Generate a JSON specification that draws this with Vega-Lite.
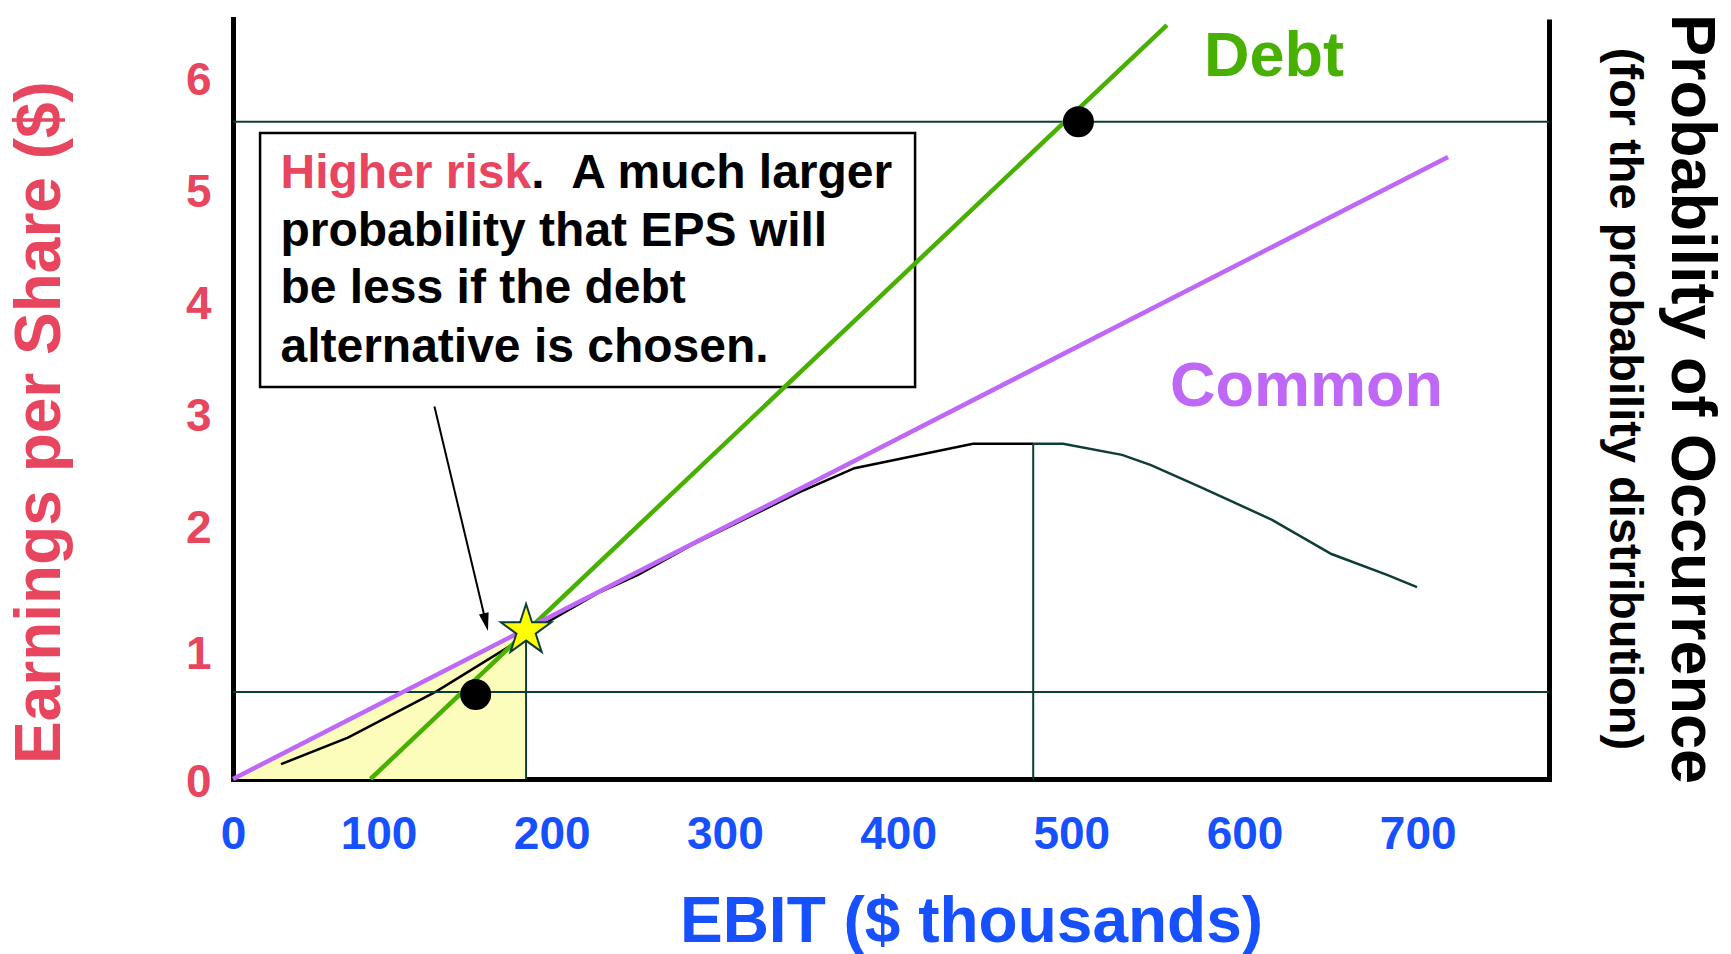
{
  "$schema": "https://vega.github.io/schema/vega-lite/v6.json",
  "width": 1316,
  "height": 760,
  "autosize": {"type": "none"},
  "padding": {"left": 233, "top": 19, "right": 182, "bottom": 175},
  "background": "white",
  "config": {
    "font": "Liberation Sans",
    "view": {"stroke": null},
    "axis": {"grid": false}
  },
  "title": {
    "text": "Probability of Occurrence",
    "subtitle": "(for the probability distribution)",
    "orient": "right",
    "anchor": "middle",
    "fontSize": 63,
    "fontWeight": "bold",
    "color": "black",
    "subtitleFontSize": 47,
    "subtitleFontWeight": "bold",
    "subtitleColor": "black",
    "subtitlePadding": 12,
    "offset": 51
  },
  "resolve": {"scale": {"y": "independent"}},
  "layer": [
    {
      "description": "Shaded region under the Common line up to the indifference point",
      "data": {"values": [{"ebit": 0, "eps": 0}, {"ebit": 185.2, "eps": 1.163}]},
      "mark": {"type": "area", "color": "#fcfcbb"},
      "encoding": {
        "x": {
          "field": "ebit", "type": "quantitative",
          "scale": {"domain": [0, 100, 775.8], "range": [0, 145.5, 1316], "nice": false, "zero": false},
          "axis": {
            "values": [0, 100, 200, 300, 400, 500, 600, 700],
            "title": "EBIT ($ thousands)",
            "domainColor": "black", "domainWidth": 5, "domainCap": "square",
            "ticks": false, "tickSize": 0,
            "labelFontSize": 46, "labelFontWeight": "bold", "labelColor": "#1650ff",
            "labelPadding": 33, "labelFlush": false, "labelOverlap": false,
            "titleFontSize": 64, "titleFontWeight": "bold", "titleColor": "#1650ff",
            "titleX": 738, "titleY": 162, "titleBaseline": "alphabetic", "titleAlign": "center"
          }
        },
        "y": {
          "field": "eps", "type": "quantitative",
          "scale": {"domain": [0, 1, 2, 6.518], "range": [760, 632, 506, 0], "nice": false, "zero": false},
          "axis": {
            "values": [0, 1, 2, 3, 4, 5, 6],
            "title": "Earnings per Share ($)",
            "domainColor": "black", "domainWidth": 5, "domainCap": "square",
            "ticks": false, "tickSize": 0,
            "labelFontSize": 46, "labelFontWeight": "bold", "labelColor": "#e8455f",
            "labelPadding": 22, "labelOffset": 3, "labelFlush": false, "labelOverlap": false,
            "titleFontSize": 64, "titleFontWeight": "bold", "titleColor": "#e8455f",
            "titleX": -174, "titleY": 403, "titleAngle": -90,
            "titleBaseline": "alphabetic", "titleAlign": "center"
          }
        }
      }
    },
    {
      "description": "Probability distribution of EBIT, read against the right-hand axis",
      "data": {
        "values": [
          {"ebit": 33.0, "prob": 0.0039, "segment": "lower"},
          {"ebit": 79.0, "prob": 0.0109, "segment": "lower"},
          {"ebit": 133.2, "prob": 0.0230, "segment": "lower"},
          {"ebit": 177.7, "prob": 0.0355, "segment": "lower"},
          {"ebit": 197.3, "prob": 0.0412, "segment": "lower"},
          {"ebit": 227.9, "prob": 0.0492, "segment": "lower"},
          {"ebit": 249.8, "prob": 0.0537, "segment": "lower"},
          {"ebit": 281.0, "prob": 0.0616, "segment": "lower"},
          {"ebit": 320.8, "prob": 0.0705, "segment": "lower"},
          {"ebit": 342.8, "prob": 0.0754, "segment": "lower"},
          {"ebit": 374.8, "prob": 0.0818, "segment": "lower"},
          {"ebit": 443.2, "prob": 0.0882, "segment": "lower"},
          {"ebit": 478.0, "prob": 0.0882, "segment": "lower"},
          {"ebit": 478.0, "prob": 0.0882, "segment": "upper"},
          {"ebit": 495.2, "prob": 0.0882, "segment": "upper"},
          {"ebit": 529.3, "prob": 0.0853, "segment": "upper"},
          {"ebit": 546.0, "prob": 0.0826, "segment": "upper"},
          {"ebit": 574.3, "prob": 0.0769, "segment": "upper"},
          {"ebit": 615.9, "prob": 0.0682, "segment": "upper"},
          {"ebit": 650.2, "prob": 0.0592, "segment": "upper"},
          {"ebit": 682.3, "prob": 0.0537, "segment": "upper"},
          {"ebit": 699.6, "prob": 0.0505, "segment": "upper"}
        ]
      },
      "encoding": {
        "x": {
          "field": "ebit", "type": "quantitative",
          "scale": {"domain": [0, 100, 775.8], "range": [0, 145.5, 1316], "nice": false, "zero": false}
        },
        "y": {
          "field": "prob", "type": "quantitative",
          "scale": {"domain": [0, 0.2], "nice": false, "zero": false},
          "axis": {
            "orient": "right", "title": null,
            "domainColor": "black", "domainWidth": 5,
            "ticks": false, "labels": false, "grid": false
          }
        }
      },
      "layer": [
        {
          "transform": [{"filter": "datum.segment === 'lower'"}],
          "mark": {"type": "line", "color": "black", "strokeWidth": 2.5}
        },
        {
          "transform": [{"filter": "datum.segment === 'upper'"}],
          "mark": {"type": "line", "color": "#0e3d38", "strokeWidth": 2.5}
        },
        {
          "description": "Expected EBIT",
          "transform": [{"filter": "datum.segment === 'upper' && datum.ebit === 478"}],
          "mark": {"type": "rule", "color": "#0e3d38", "strokeWidth": 2},
          "encoding": {"y2": {"datum": 0}}
        }
      ]
    },
    {
      "description": "EPS lines, callout and markers",
      "encoding": {
        "x": {
          "field": "ebit", "type": "quantitative",
          "scale": {"domain": [0, 100, 775.8], "range": [0, 145.5, 1316], "nice": false, "zero": false}
        },
        "y": {
          "field": "eps", "type": "quantitative",
          "scale": {"domain": [0, 1, 2, 6.518], "range": [760, 632, 506, 0], "nice": false, "zero": false},
          "axis": null
        }
      },
      "layer": [
        {
          "data": {"values": [{"ebit": 18.6, "ebit_end": 409.8, "eps": 5.50, "eps_end": 3.232}]},
          "mark": {"type": "rect", "fill": "white", "stroke": "black", "strokeWidth": 2.5},
          "encoding": {
            "x2": {"field": "ebit_end"},
            "y2": {"field": "eps_end"}
          }
        },
        {
          "data": {"values": [{"eps": 5.6}, {"eps": 0.68}]},
          "mark": {"type": "rule", "color": "#0e3d38", "strokeWidth": 2},
          "encoding": {"x": null}
        },
        {
          "data": {"values": [{"ebit": 185.2, "eps": 1.163}]},
          "mark": {"type": "rule", "color": "#0e3d38", "strokeWidth": 2},
          "encoding": {"y2": {"datum": 0}}
        },
        {
          "data": {
            "values": [
              {"series": "Debt", "ebit": 94.5, "eps": 0},
              {"series": "Debt", "ebit": 555.2, "eps": 6.464},
              {"series": "Common", "ebit": 0, "eps": 0},
              {"series": "Common", "ebit": 717.5, "eps": 5.286}
            ]
          },
          "mark": {"type": "line", "strokeWidth": 4.5},
          "encoding": {
            "color": {
              "field": "series", "type": "nominal",
              "scale": {"domain": ["Debt", "Common"], "range": ["#48b000", "#bf68f7"]},
              "legend": null
            }
          }
        },
        {
          "data": {
            "values": [
              {"series": "Debt", "ebit": 576.6, "eps": 6.009},
              {"series": "Common", "ebit": 557.0, "eps": 3.063}
            ]
          },
          "mark": {"type": "text", "align": "left", "baseline": "alphabetic", "fontSize": 63, "fontWeight": "bold"},
          "encoding": {
            "text": {"field": "series"},
            "color": {"field": "series", "type": "nominal", "legend": null}
          }
        },
        {
          "data": {
            "values": [
              {"text": ".\u00a0\u00a0A much larger", "ebit": 188.2, "eps": 5.009},
              {"text": "probability that EPS will", "ebit": 32.6, "eps": 4.491},
              {"text": "be less if the debt", "ebit": 32.6, "eps": 3.982},
              {"text": "alternative is chosen.", "ebit": 32.6, "eps": 3.455}
            ]
          },
          "mark": {"type": "text", "align": "left", "baseline": "alphabetic", "fontSize": 48, "fontWeight": "bold", "color": "black"},
          "encoding": {"text": {"field": "text"}}
        },
        {
          "data": {"values": [{"text": "Higher risk", "ebit": 188.2, "eps": 5.009}]},
          "mark": {"type": "text", "align": "right", "baseline": "alphabetic", "fontSize": 48, "fontWeight": "bold", "color": "#e8455f"},
          "encoding": {"text": {"field": "text"}}
        },
        {
          "data": {"values": [{"ebit": 132.3, "eps": 3.058, "ebit_end": 162.0, "eps_end": 1.229}]},
          "mark": {"type": "rule", "color": "black", "strokeWidth": 2},
          "encoding": {
            "x2": {"field": "ebit_end"},
            "y2": {"field": "eps_end"}
          }
        },
        {
          "data": {"values": [{"ebit": 162.0, "eps": 1.229}]},
          "mark": {
            "type": "point", "shape": "M0,1L-0.55,-1L0.55,-1Z", "size": 324,
            "angle": -13.4, "filled": true, "color": "black", "opacity": 1
          }
        },
        {
          "data": {"values": [{"ebit": 504.1, "eps": 5.6}, {"ebit": 156.1, "eps": 0.66}]},
          "mark": {"type": "circle", "size": 961, "color": "black", "opacity": 1}
        },
        {
          "data": {"values": [{"ebit": 185.2, "eps": 1.163}]},
          "mark": {
            "type": "point",
            "shape": "M0,-1L0.2245,-0.309L0.951,-0.309L0.3633,0.118L0.5878,0.809L0,0.382L-0.5878,0.809L-0.3633,0.118L-0.951,-0.309L-0.2245,-0.309Z",
            "size": 2809, "filled": true, "fill": "#ffff00", "stroke": "#0e3d38",
            "strokeWidth": 2, "opacity": 1
          }
        }
      ]
    }
  ]
}
